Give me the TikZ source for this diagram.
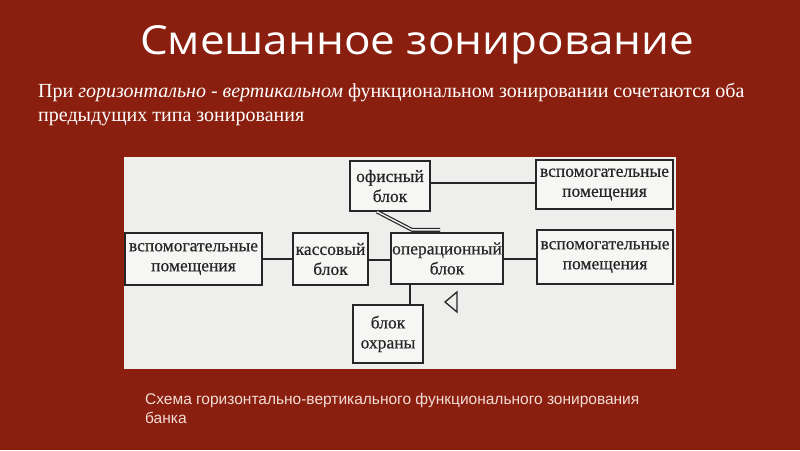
\documentclass[tikz,border=0pt]{standalone}
\usepackage{fontspec}
\usepackage{graphicx}
\setmainfont{Liberation Serif}
\newfontfamily\sansf{Liberation Sans}
\newfontfamily\titlef{Open Sans}
\newfontfamily\boxf[FakeBold=0.6]{Liberation Serif}
\definecolor{bgred}{HTML}{8A1F0F}
\definecolor{panel}{HTML}{EEEEEC}
\definecolor{boxfill}{HTML}{F6F6F4}
\definecolor{captcol}{HTML}{F2DCD6}
\tikzset{
  blk/.style={draw=black!85, line width=1.3pt, fill=boxfill, align=center, inner sep=0pt,
    font=\boxf\fontsize{17.5}{20}\selectfont, text=black!85},
  link/.style={draw=black!85, line width=1.6pt},
}
\begin{document}
\begin{tikzpicture}[x=1pt,y=-1pt]
\fill[bgred] (0,0) rectangle (800,450);
\useasboundingbox (0,0) rectangle (800,450);
\fill[panel] (124,157) rectangle (676,369);
\node[text=white, anchor=base, inner sep=0pt, font=\titlef\fontsize{40}{44}\selectfont] (title) at (417,54) {\scalebox{1.1}[1]{Смешанное зонирование}};
\node[text=white, anchor=north west, align=left, inner sep=0pt, font=\fontsize{20}{23.5}\selectfont] (sub) at (38,83)
  {При \textit{горизонтально - вертикальном} функциональном зонировании сочетаются оба\\предыдущих типа зонирования};
\node[blk, minimum width=80pt, minimum height=50pt] (of) at (390,186) {офисный\\блок};
\node[blk, minimum width=137pt, minimum height=49pt] (vr1) at (604.5,184.5) {вспомогательные\\помещения};
\node[blk, minimum width=137pt, minimum height=52pt] (vl) at (193.5,259) {вспомогательные\\помещения};
\node[blk, minimum width=75pt, minimum height=52pt] (kas) at (330.5,259) {кассовый\\блок};
\node[blk, minimum width=112pt, minimum height=51pt] (op) at (447,258.5) {операционный\\блок};
\node[blk, minimum width=136pt, minimum height=54pt] (vr2) at (605,257) {вспомогательные\\помещения};
\node[blk, minimum width=70pt, minimum height=58pt] (oh) at (388,334) {блок\\охраны};
\draw[link] (of.east |- 0,183) -- (vr1.west |- 0,183);
\draw[link] (vl.east |- 0,259) -- (kas.west |- 0,259);
\draw[link] (kas.east |- 0,260) -- (op.west |- 0,260);
\draw[link] (op.east |- 0,259) -- (vr2.west |- 0,259);
\draw[link] (op.south -| 410,0) -- (oh.north -| 410,0);
\coordinate (bend) at ([xshift=-35pt,yshift=2.5pt]op.north);
\coordinate (bendend) at ([xshift=-7pt,yshift=2.5pt]op.north);
\draw[draw=black!85, line width=1.2pt, double=panel, double distance=1.4pt] ([xshift=-13pt]of.south) -- (bend) -- (bendend);
\draw[black!85, line width=1.3pt, line join=miter] (445,302) -- (457,292) -- (457,312) -- cycle;
\node[text=captcol, anchor=north west, align=left, inner sep=0pt, font=\sansf\fontsize{15.5}{19}\selectfont] (cap) at (145,393)
  {Схема горизонтально-вертикального функционального зонирования\\банка};
\end{tikzpicture}
\end{document}
